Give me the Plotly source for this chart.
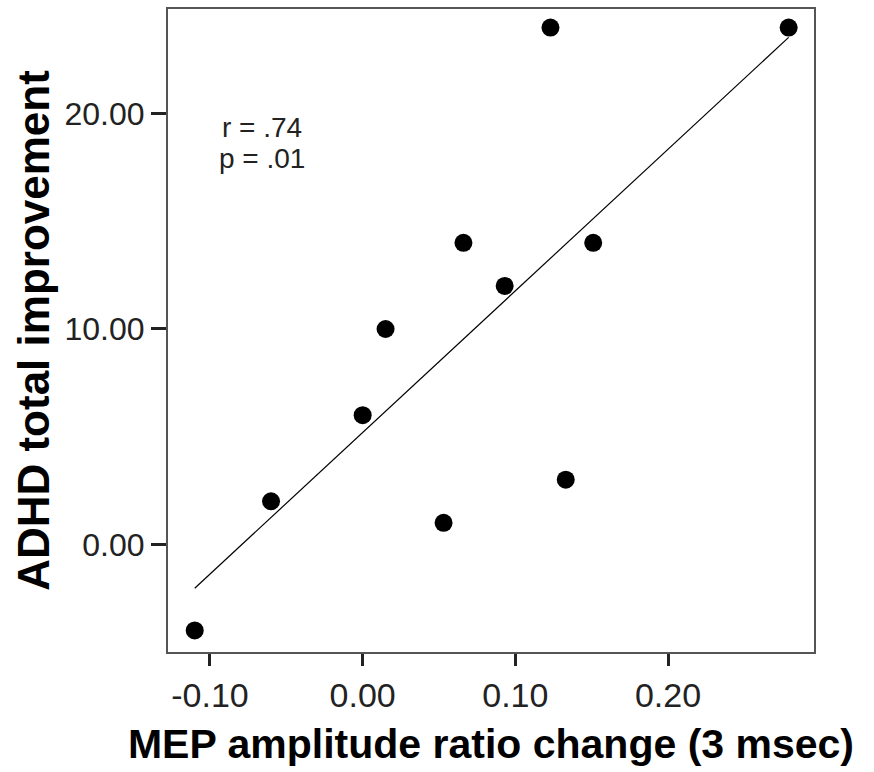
import numpy as np
import plotly.graph_objects as go

# Data
mep_change = [-0.11, -0.06, 0.00, 0.015, 0.053, 0.066, 0.093, 0.123, 0.133, 0.151, 0.279]
adhd_improvement = [-4, 2, 6, 10, 1, 14, 12, 24, 3, 14, 24]
x_ticks = [-0.10, 0.00, 0.10, 0.20]
x_tick_labels = ["-0.10", "0.00", "0.10", "0.20"]
y_ticks = [0, 10, 20]
y_tick_labels = ["0.00", "10.00", "20.00"]
stats_lines = ["r = .74", "p = .01"]
stats_pos_x = -0.0661
stats_pos_y = [19.35, 17.9]

slope, intercept = np.polyfit(mep_change, adhd_improvement, 1)
fit_x = [min(mep_change), max(mep_change)]
fit_y = [slope * v + intercept for v in fit_x]

FONT = "Liberation Sans, Arial"

fig = go.Figure()
fig.add_trace(go.Scatter(x=fit_x, y=fit_y, mode="lines",
                         line=dict(color="black", width=1.2), showlegend=False))
fig.add_trace(go.Scatter(x=mep_change, y=adhd_improvement, mode="markers",
                         marker=dict(color="black", size=18, symbol="circle"),
                         showlegend=False))

for txt, yy in zip(stats_lines, stats_pos_y):
    fig.add_annotation(x=stats_pos_x, y=yy, xref="x", yref="y", text=txt,
                       showarrow=False, xanchor="center", yanchor="middle",
                       font=dict(family=FONT, size=28, color="#222"))

axis_common = dict(showgrid=False, zeroline=False, showline=True, mirror=True,
                   linecolor="#555", linewidth=2, ticks="outside",
                   tickwidth=3, tickcolor="#222")

fig.update_xaxes(range=[-0.1275, 0.2956], tickvals=x_ticks, ticktext=x_tick_labels,
                 ticklen=12,
                 tickfont=dict(family=FONT, size=34, color="#222"),
                 title=dict(text="<b>MEP amplitude ratio change (3 msec)</b>",
                            font=dict(family=FONT, size=41, color="black"),
                            standoff=17),
                 **axis_common)
fig.update_yaxes(range=[-5.0, 24.86], tickvals=y_ticks, ticktext=y_tick_labels,
                 ticklen=15,
                 tickfont=dict(family=FONT, size=32, color="#222"),
                 title=dict(text="<b>ADHD total improvement</b>",
                            font=dict(family=FONT, size=44, color="black"),
                            standoff=1),
                 **axis_common)

fig.update_layout(width=874, height=772, plot_bgcolor="white", paper_bgcolor="white",
                  margin=dict(l=168, r=60, t=7, b=120))

fig.write_html("out.html", config={"displayModeBar": False},
               post_script="document.body.style.margin='0';")
